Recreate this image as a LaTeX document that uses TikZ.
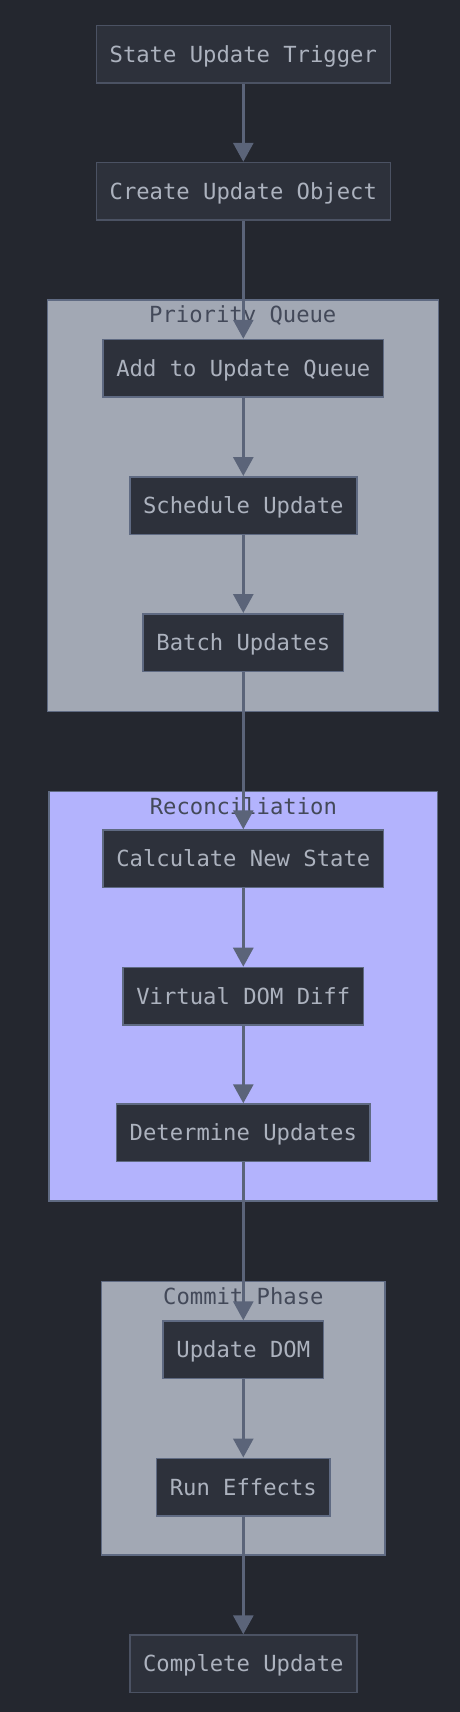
\documentclass[tikz,border=0pt]{standalone}
\usepackage{fontspec}
\newfontfamily\dvm{DejaVu Sans Mono}
\usetikzlibrary{arrows.meta,calc}
\definecolor{bg}{HTML}{24272F}
\definecolor{nodefill}{HTML}{2D313B}
\definecolor{topborder}{HTML}{4B5263}
\definecolor{inborder}{HTML}{5F6A82}
\definecolor{nodetext}{HTML}{ACB2BE}
\definecolor{clgray}{HTML}{A2A8B4}
\definecolor{clblue}{HTML}{B3B3FD}
\definecolor{clborder}{HTML}{5F6A82}
\definecolor{cltitle}{HTML}{434959}
\definecolor{arrowc}{HTML}{5B6479}
\begin{document}
\begin{tikzpicture}[x=1pt,y=-1pt,
  box/.style={fill=nodefill, line width=1.5pt, text=nodetext,
    font=\dvm\fontsize{22.2}{26}\selectfont, inner xsep=13.3pt, inner ysep=0pt,
    minimum height=57.5pt, text height=16.2pt, text depth=0pt},
  topbox/.style={box, draw=topborder},
  inbox/.style={box, draw=inborder},
  cluster/.style={draw=clborder, line width=1.5pt, inner sep=0pt, rectangle},
  cltext/.style={text=cltitle, font=\dvm\fontsize{22.2}{26}\selectfont, inner sep=0pt, anchor=base},
  flow/.style={draw=arrowc, line width=2.9pt, -{Triangle[length=19pt,width=20pt]}}
]
\useasboundingbox (0,0) rectangle (460,1712);
\fill[bg] (0,0) rectangle (460,1712);

% clusters
\node[cluster, fill=clgray, minimum width=391pt, minimum height=411.3pt] (pq) at (242.8,505.65) {};
\node[cluster, fill=clblue, minimum width=388.7pt, minimum height=409.1pt] (rc) at (243.35,996.25) {};
\node[cluster, fill=clgray, minimum width=283.3pt, minimum height=273.3pt] (cm) at (243.35,1418.35) {};

\node[cltext] (pqt) at ($(pq.north)+(0,23.3)$) {Priority Queue};
\node[cltext] (rct) at ($(rc.north)+(0,23.3)$) {Reconciliation};
\node[cltext] (cmt) at ($(cm.north)+(0,23.3)$) {Commit Phase};

% nodes
\node[topbox] (trig) at (243.3,54.2) {State Update Trigger};
\node[topbox] (create) at (243.3,191.3) {Create Update Object};
\node[inbox] (addq) at (243.3,368.3) {Add to Update Queue};
\node[inbox] (sched) at (243.3,505.5) {Schedule Update};
\node[inbox] (batch) at (243.3,642.5) {Batch Updates};
\node[inbox] (calc) at (243.3,858.8) {Calculate New State};
\node[inbox] (vdom) at (243.3,996.2) {Virtual DOM Diff};
\node[inbox] (det) at (243.3,1132.8) {Determine Updates};
\node[inbox] (updom) at (243.3,1349.8) {Update DOM};
\node[inbox] (runeff) at (243.3,1487) {Run Effects};
\node[topbox] (complete) at (243.3,1663.8) {Complete Update};

% connectors
\draw[flow] (trig.south) -- (create.north);
\draw[flow] (create.south) -- (addq.north);
\draw[flow] (addq.south) -- (sched.north);
\draw[flow] (sched.south) -- (batch.north);
\draw[flow] (batch.south) -- (calc.north);
\draw[flow] (calc.south) -- (vdom.north);
\draw[flow] (vdom.south) -- (det.north);
\draw[flow] (det.south) -- (updom.north);
\draw[flow] (updom.south) -- (runeff.north);
\draw[flow] (runeff.south) -- (complete.north);
\end{tikzpicture}
\end{document}
